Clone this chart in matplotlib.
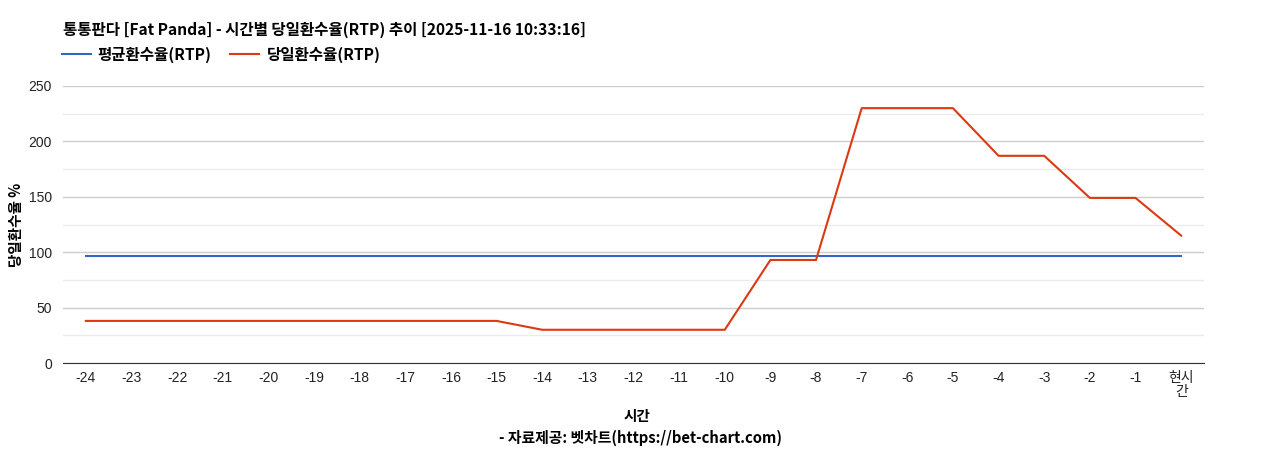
import matplotlib
matplotlib.use('Agg')
import matplotlib.pyplot as plt
from matplotlib.ticker import MultipleLocator

plt.rcParams['font.family'] = ['Liberation Sans', 'Noto Sans CJK KR', 'DejaVu Sans']

# data
hours = ['-24', '-23', '-22', '-21', '-20', '-19', '-18', '-17', '-16', '-15',
         '-14', '-13', '-12', '-11', '-10', '-9', '-8', '-7', '-6', '-5',
         '-4', '-3', '-2', '-1', '현시\n간']
avg_rtp = [96.5] * 25
day_rtp = [38, 38, 38, 38, 38, 38, 38, 38, 38, 38,
           30, 30, 30, 30, 30, 93, 93, 230, 230, 230,
           187, 187, 149, 149, 115]

title = '통통판다 [Fat Panda] - 시간별 당일환수율(RTP) 추이 [2025-11-16 10:33:16]'
kfont = ['Noto Sans CJK KR', 'DejaVu Sans']

fig = plt.figure(figsize=(12.68, 4.5), dpi=100)
ax = fig.add_axes([0.0497, 0.1933, 0.8998, 0.6156])

x = list(range(len(hours)))
ax.plot(x, avg_rtp, color='#3366cc', lw=1.5, label='평균환수율(RTP)')
ax.plot(x, day_rtp, color='#dc3912', lw=1.5, label='당일환수율(RTP)')

ax.set_xlim(-0.5, len(hours) - 0.5)
ax.set_ylim(0, 250)
ax.yaxis.set_major_locator(MultipleLocator(50))
ax.yaxis.set_minor_locator(MultipleLocator(25))
ax.grid(axis='y', which='major', color='#cccccc', lw=1)
ax.grid(axis='y', which='minor', color='#ebebeb', lw=1)
ax.set_axisbelow(True)
for s in ['top', 'right', 'left']:
    ax.spines[s].set_visible(False)
ax.spines['bottom'].set_color('#333333')
ax.tick_params(axis='both', which='both', length=0, labelsize=10, colors='#222222')
ax.tick_params(axis='x', pad=6)
ax.tick_params(axis='y', pad=8)
ax.set_xticks(x)
ax.set_xticklabels(hours, fontfamily=['Liberation Sans', 'Noto Sans CJK KR'], linespacing=1.0)

ax.set_ylabel('당일환수율 %', fontfamily=kfont, fontweight='bold', fontsize=10.5, va='center')
ax.yaxis.set_label_coords(-0.041, 0.5)
fig.text(0.502, 0.076, '시간', ha='center', va='center', fontfamily=kfont,
         fontweight='bold', fontsize=10.5)
fig.text(0.505, 0.028, '- 자료제공: 벳차트(https://bet-chart.com)', ha='center', va='center',
         fontfamily=kfont, fontweight='bold', fontsize=10.7)

fig.text(0.0497, 0.933, title, ha='left', va='center', fontfamily=kfont,
         fontweight='bold', fontsize=11.2)
leg = ax.legend(loc='center left', bbox_to_anchor=(-0.001, 1.112), ncol=2, frameon=False,
                prop={'family': kfont, 'weight': 'bold', 'size': 11.2},
                handlelength=1.86, columnspacing=1.2, handletextpad=0.45, borderaxespad=0,
                borderpad=0)

fig.savefig('out.png', dpi=100)
